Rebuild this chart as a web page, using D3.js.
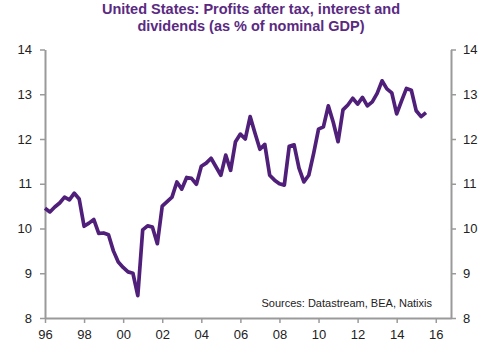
<!DOCTYPE html>
<html>
<head>
<meta charset="utf-8">
<script src="https://cdn.jsdelivr.net/npm/d3@7"></script>
<style>
  body { margin: 0; background: #fff; }
  svg text { font-family: "Liberation Sans", Arial, sans-serif; }
</style>
</head>
<body>
<div id="chart"></div>
<script>
// quarterly series, starting 1996 Q1
const startYear = 1996;
const profits = [
  10.45, 10.37, 10.48, 10.57,
  10.70, 10.64, 10.79, 10.66,
  10.05, 10.12, 10.20, 9.89,
  9.90, 9.86, 9.50, 9.25,
  9.13, 9.03, 9.00, 8.50,
  9.97, 10.06, 10.03, 9.66,
  10.50, 10.60, 10.70, 11.04,
  10.88, 11.14, 11.12, 10.99,
  11.39, 11.46, 11.57, 11.38,
  11.19, 11.64, 11.30, 11.94,
  12.11, 12.00, 12.50, 12.13,
  11.77, 11.88, 11.19, 11.08,
  11.00, 10.97, 11.84, 11.87,
  11.35, 11.04, 11.19, 11.68,
  12.22, 12.27, 12.74, 12.38,
  11.94, 12.65, 12.76, 12.91,
  12.78, 12.93, 12.74, 12.83,
  13.02, 13.30, 13.12, 13.03,
  12.56, 12.85, 13.13, 13.09,
  12.63, 12.50, 12.59
];
const yTicks = [8, 9, 10, 11, 12, 13, 14];
const xTicks = [1996, 1998, 2000, 2002, 2004, 2006, 2008, 2010, 2012, 2014, 2016];
const titleLines = ["United States: Profits after tax, interest and", "dividends (as % of nominal GDP)"];
const sourceText = "Sources: Datastream, BEA, Natixis";

const W = 500, H = 349;
const margin = { top: 49.5, right: 49, bottom: 31, left: 45 };
const width = W - margin.left - margin.right,
      height = H - margin.top - margin.bottom;

const data = profits.map((v, i) => ({ t: startYear + i / 4, v }));

const svg = d3.select("#chart").append("svg")
    .attr("width", W)
    .attr("height", H);

svg.selectAll(".title")
    .data(titleLines)
    .join("text")
    .attr("class", "title")
    .attr("x", 251)
    .attr("y", (d, i) => 14 + i * 17)
    .attr("text-anchor", "middle")
    .style("font-size", "14.5px")
    .style("font-weight", "bold")
    .attr("fill", "#5a2a82")
    .text(d => d);

const g = svg.append("g")
    .attr("transform", `translate(${margin.left},${margin.top})`);

const x = d3.scaleLinear()
    .domain([1996, 2016.78])
    .range([0, width]);

const y = d3.scaleLinear()
    .domain([8, 14])
    .range([height, 0]);

const axisColor = "#9a9a9a";

function styleAxis(sel) {
    sel.select(".domain").attr("stroke", axisColor).attr("stroke-width", 2);
    sel.selectAll(".tick line").attr("stroke", axisColor).attr("stroke-width", 1.5);
    sel.selectAll("text").attr("fill", "#222").style("font-size", "13px");
}

g.append("g")
    .call(d3.axisLeft(y).tickValues(yTicks).tickSize(5).tickSizeOuter(0).tickPadding(8)
        .tickFormat(d3.format("d")))
    .call(styleAxis);

g.append("g")
    .attr("transform", `translate(${width},0)`)
    .call(d3.axisRight(y).tickValues(yTicks).tickSize(5).tickSizeOuter(0).tickPadding(7)
        .tickFormat(d3.format("d")))
    .call(styleAxis);

g.append("g")
    .attr("transform", `translate(0,${height})`)
    .call(d3.axisBottom(x).tickValues(xTicks).tickSize(5).tickSizeOuter(0).tickPadding(7)
        .tickFormat(d => String(d).slice(2)))
    .call(styleAxis);

const line = d3.line()
    .x(d => x(d.t))
    .y(d => y(d.v));

g.append("path")
    .datum(data)
    .attr("fill", "none")
    .attr("stroke", "#4f1f7a")
    .attr("stroke-width", 3.7)
    .attr("stroke-linejoin", "round")
    .attr("d", line);

g.append("text")
    .attr("x", width - 19)
    .attr("y", height - 11)
    .attr("text-anchor", "end")
    .attr("fill", "#222")
    .style("font-size", "11px")
    .text(sourceText);
</script>
</body>
</html>
